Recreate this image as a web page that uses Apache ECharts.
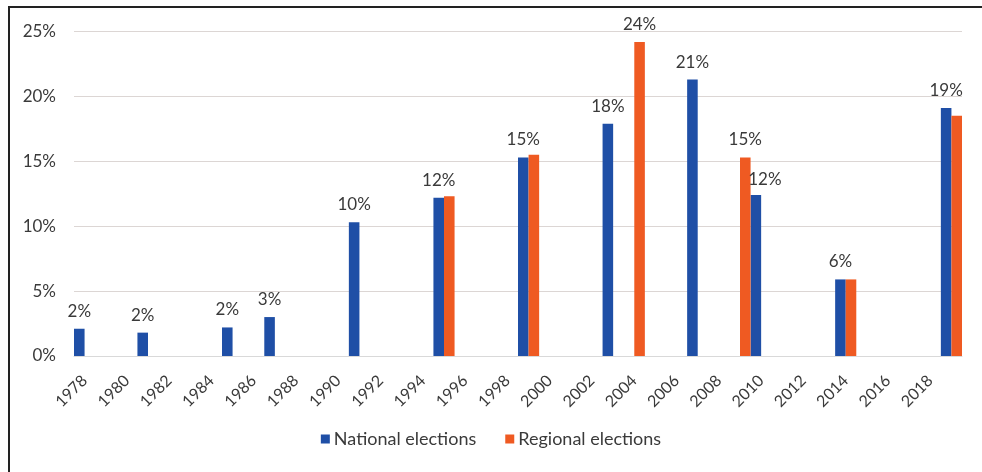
<!DOCTYPE html>
<html>
<head>
<meta charset="utf-8">
<script src="https://cdn.jsdelivr.net/npm/echarts@6/dist/echarts.min.js"></script>
<style>
html,body{margin:0;padding:0;background:#fff;}
#chart{width:982px;height:472px;}
</style>
</head>
<body>
<div id="chart"></div>
<script>
const years = ['1978','1979','1980','1981','1982','1983','1984','1985','1986','1987','1988','1989','1990','1991','1992','1993','1994','1995','1996','1997','1998','1999','2000','2001','2002','2003','2004','2005','2006','2007','2008','2009','2010','2011','2012','2013','2014','2015','2016','2017','2018','2019'];
const national = [2.1,null,null,1.8,null,null,null,2.2,null,3.0,null,null,null,10.3,null,null,null,12.2,null,null,null,15.3,null,null,null,17.9,null,null,null,21.3,null,null,12.4,null,null,null,5.9,null,null,null,null,19.1];
const regional = [null,null,null,null,null,null,null,null,null,null,null,null,null,null,null,null,null,12.3,null,null,null,15.5,null,null,null,null,24.2,null,null,null,null,15.3,null,null,null,null,5.9,null,null,null,null,18.5];
const regionalLabelled = ['2004','2009'];
const yTicks = [0,5,10,15,20,25];

const FONT = 'Lato, "Open Sans", sans-serif';
const TXT = '#3a3a3a';

const chart = echarts.init(document.getElementById('chart'), null, {renderer:'canvas'});
const labelFmt = p => Math.round(p.value) + '%';

const natData = national.map((v, i) => {
  if (v === null) return null;
  const item = {value: v};
  if (years[i] === '2010') item.label = {offset: [9, 2]};
  return item;
});
const regData = regional.map((v, i) => {
  if (v === null) return null;
  return {value: v, label: {show: regionalLabelled.includes(years[i])}};
});

chart.setOption({
  backgroundColor: '#ffffff',
  animation: false,
  textStyle: {fontFamily: FONT},
  grid: {left: 74, right: 20, top: 31.5, bottom: 116, containLabel: false},
  legend: {
    bottom: 19,
    left: 'center',
    itemWidth: 9, itemHeight: 9, itemGap: 29,
    icon: 'rect',
    textStyle: {fontFamily: FONT, fontSize: 18, color: TXT, padding: [0,0,0,-1]},
    data: ['National elections', 'Regional elections']
  },
  xAxis: {
    type: 'category',
    data: years,
    axisLine: {show: true, lineStyle: {color: '#d9d9d9', width: 1}},
    axisTick: {show: false},
    axisLabel: {interval: 1, rotate: 45, margin: 22, fontSize: 16, color: TXT, fontFamily: FONT}
  },
  yAxis: {
    type: 'value',
    min: 0, max: 25, interval: 5,
    axisLine: {show: false},
    axisTick: {show: false},
    splitLine: {lineStyle: {color: '#dcd6d4', width: 1}},
    axisLabel: {margin: 18, fontSize: 17, color: TXT, fontFamily: FONT, formatter: v => yTicks.includes(v) ? v + '%' : ''}
  },
  graphic: [
    {type: 'line', shape: {x1: 9, y1: 6, x2: 9, y2: 472}, style: {stroke: '#222', lineWidth: 2}, silent: true},
    {type: 'line', shape: {x1: 9, y1: 7, x2: 982, y2: 7}, style: {stroke: '#222', lineWidth: 2}, silent: true}
  ],
  series: [
    {
      name: 'National elections', type: 'bar', data: natData,
      barGap: '0%', barCategoryGap: '0%',
      itemStyle: {color: '#1f4fa6'},
      label: {show: true, position: 'top', distance: 9, fontSize: 17, color: TXT, fontFamily: FONT, formatter: labelFmt}
    },
    {
      name: 'Regional elections', type: 'bar', data: regData,
      barGap: '0%', barCategoryGap: '0%',
      itemStyle: {color: '#ef5a22'},
      label: {show: false, position: 'top', distance: 9, fontSize: 17, color: TXT, fontFamily: FONT, formatter: labelFmt}
    }
  ]
});
</script>
</body>
</html>
